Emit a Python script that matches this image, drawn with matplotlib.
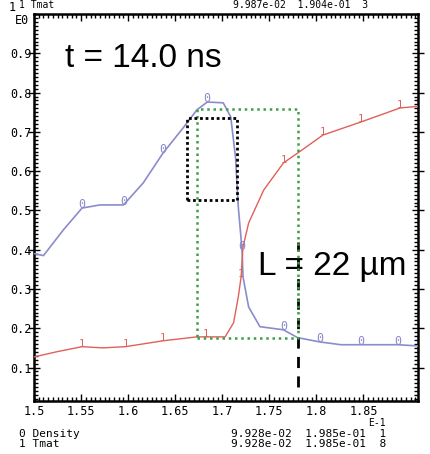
#%% Bibliotheken

import numpy as np
import matplotlib
matplotlib.use("Agg")
import matplotlib.pyplot as plt
from matplotlib.ticker import MultipleLocator

#%% Daten (x in Einheiten von 1e-1)

# Kurve 0: Density (blau)
dens_x = [1.500, 1.510, 1.531, 1.551, 1.570, 1.595, 1.616, 1.637, 1.659,
          1.673, 1.684, 1.701, 1.709, 1.714, 1.717, 1.721, 1.722, 1.728,
          1.740, 1.765, 1.780, 1.804, 1.826, 1.847, 1.886, 1.908]
dens_y = [0.390, 0.385, 0.450, 0.506, 0.514, 0.514, 0.570, 0.646, 0.712,
          0.756, 0.776, 0.774, 0.738, 0.636, 0.509, 0.399, 0.331, 0.254,
          0.204, 0.196, 0.176, 0.165, 0.158, 0.158, 0.158, 0.155]
dens_marks = [1.551, 1.595, 1.637, 1.684, 1.721, 1.765, 1.804, 1.847, 1.886]

# Kurve 1: Tmat (rot)
tmat_x = [1.500, 1.524, 1.551, 1.573, 1.597, 1.637, 1.673, 1.682, 1.703,
          1.712, 1.717, 1.720, 1.722, 1.728, 1.744, 1.765, 1.780, 1.807,
          1.847, 1.889, 1.908]
tmat_y = [0.127, 0.140, 0.153, 0.150, 0.153, 0.168, 0.178, 0.178, 0.178,
          0.214, 0.280, 0.331, 0.407, 0.468, 0.552, 0.621, 0.646, 0.692,
          0.725, 0.761, 0.765]
tmat_marks = [1.551, 1.597, 1.637, 1.682, 1.720, 1.765, 1.807, 1.847, 1.889]

# Rahmen (gruen gepunktet, schwarz gepunktet) und gestrichelte Linie
green_box = (1.673, 1.780, 0.176, 0.758)
black_box = (1.663, 1.716, 0.527, 0.735)
dash_x = 1.780
dash_y = (0.05, 0.42)

xticks = [1.5, 1.55, 1.6, 1.65, 1.7, 1.75, 1.8, 1.85]
xticklabels = ["1.5", "1.55", "1.6", "1.65", "1.7", "1.75", "1.8", "1.85"]
yticks = [0.1, 0.2, 0.3, 0.4, 0.5, 0.6, 0.7, 0.8, 0.9]
yticklabels = ["0.1", "0.2", "0.3", "0.4", "0.5", "0.6", "0.7", "0.8", "0.9"]

blue = "#8a8ccc"
red = "#e0605a"
mono = "DejaVu Sans Mono"

#%% Grafik

fig = plt.figure(figsize=(4.31, 4.54), dpi=100)
ax = fig.add_axes([0.079, 0.117, 0.891, 0.852])

ax.plot(dens_x, dens_y, color=blue, lw=1.2, zorder=3)
ax.plot(tmat_x, tmat_y, color=red, lw=1.0, zorder=3)

# Kurvenbeschriftungen "0" und "1"
for xm in dens_marks:
    ym = np.interp(xm, dens_x, dens_y)
    ax.text(xm, ym + 0.008, "0", color=blue, fontsize=8.5, family=mono,
            ha="center", va="center", zorder=4)
for xm in tmat_marks:
    ym = np.interp(xm, tmat_x, tmat_y)
    ax.text(xm, ym + 0.008, "1", color=red, fontsize=7.5, family=mono,
            ha="center", va="center", zorder=4)

# Rechtecke
x0, x1, y0, y1 = green_box
ax.plot([x0, x1, x1, x0, x0], [y0, y0, y1, y1, y0], color="#3f9f4a",
        ls=(0, (1, 1.5)), lw=1.8, zorder=5)
x0, x1, y0, y1 = black_box
ax.plot([x0, x1, x1, x0, x0], [y0, y0, y1, y1, y0], color="black",
        ls=(0, (1, 1)), lw=2.0, zorder=5)
ax.plot([dash_x, dash_x], dash_y, color="black", ls=(0, (4, 3)), lw=2.0,
        zorder=4)

# Texte im Diagramm
ax.text(1.533, 0.865, "t = 14.0 ns", fontsize=24, family="Liberation Sans",
        ha="left", va="baseline")
ax.text(1.738, 0.336, "L = 22 µm", fontsize=24, family="Liberation Sans",
        ha="left", va="baseline")

# Achsen
ax.set_xlim(1.5, 1.908)
ax.set_ylim(0.015, 1.0)
ax.set_xticks(xticks)
ax.set_xticklabels(xticklabels)
ax.set_yticks(yticks)
ax.set_yticklabels(yticklabels)
ax.xaxis.set_minor_locator(MultipleLocator(0.005))
ax.yaxis.set_minor_locator(MultipleLocator(0.01))
ax.tick_params(which="both", direction="in", top=True, right=True,
               width=1.0, color="black")
ax.tick_params(which="major", length=5)
ax.tick_params(which="minor", length=3)
ax.tick_params(axis="y", which="major", direction="inout", length=9, pad=-3)
ax.tick_params(axis="x", which="major", pad=3)
for lab in ax.get_xticklabels() + ax.get_yticklabels():
    lab.set_family(mono)
    lab.set_fontsize(8.5)
for sp in ax.spines.values():
    sp.set_linewidth(1.8)

# Beschriftungen ausserhalb
fig.text(0.019, 0.984, "1", family=mono, fontsize=8.5, va="center")
fig.text(0.035, 0.955, "E0", family=mono, fontsize=8.5, va="center")
fig.text(0.855, 0.068, "E-1", family=mono, fontsize=7, va="center")
fig.text(0.045, 0.999, "1 Tmat", family=mono, fontsize=7, va="top")
fig.text(0.54, 0.999, "9.987e-02  1.904e-01  3", family=mono, fontsize=7,
         va="top")
fig.text(0.045, 0.044, "0 Density", family=mono, fontsize=8, va="center")
fig.text(0.045, 0.023, "1 Tmat", family=mono, fontsize=8, va="center")
fig.text(0.535, 0.044, "9.928e-02  1.985e-01  1", family=mono, fontsize=8,
         va="center")
fig.text(0.535, 0.023, "9.928e-02  1.985e-01  8", family=mono, fontsize=8,
         va="center")

plt.savefig("out.png", dpi=100)
